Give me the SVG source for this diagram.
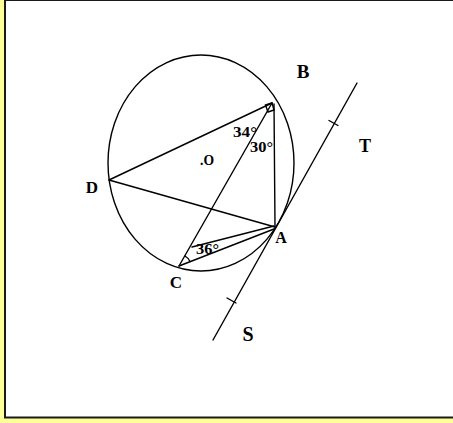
<svg xmlns="http://www.w3.org/2000/svg" width="453" height="423" viewBox="0 0 453 423">
<style>
.ln{stroke:#000;stroke-width:1.4;fill:none;stroke-linecap:round}
.lb{font-family:"Liberation Serif","Times New Roman",serif;font-weight:bold;fill:#000}
.ang{font-family:"Liberation Serif","Times New Roman",serif;font-weight:bold;fill:#000;font-size:15px}
</style>
<rect x="0" y="0" width="453" height="423" fill="#FFFF99"/>
<rect x="5" y="0" width="460" height="417.5" fill="#fff" stroke="#1a1a1a" stroke-width="2"/>
<g id="circle">
<ellipse class="ln" cx="201" cy="163" rx="93" ry="108"/>
</g>
<g id="connectors">
<line class="ln" x1="272" y1="103" x2="109" y2="180"/>
<line class="ln" x1="109" y1="180" x2="275" y2="227"/>
<line class="ln" x1="274" y1="104" x2="275" y2="227"/>
<line class="ln" x1="272" y1="103" x2="179" y2="266"/>
<line class="ln" x1="179" y1="266" x2="274" y2="229"/>
<line class="ln" x1="192" y1="247" x2="274" y2="226"/>
<line class="ln" x1="357" y1="83" x2="213" y2="340"/>
<line class="ln" x1="329" y1="120.5" x2="338" y2="125.5"/>
<line class="ln" x1="227" y1="298" x2="236" y2="303"/>
<polygon class="ln" points="265.5,105 272,103 274,110 268,112"/>
<path class="ln" d="M185,256 A12,12 0 0 1 190,261.5"/>
</g>
<g id="B"><text class="lb" x="303" y="78" font-size="19" text-anchor="middle">B</text></g>
<g id="T"><text class="lb" x="365" y="152" font-size="18" text-anchor="middle">T</text></g>
<g id="D"><text class="lb" x="92" y="193" font-size="17" text-anchor="middle">D</text></g>
<g id="A"><text class="lb" x="281" y="243" font-size="16" text-anchor="middle">A</text></g>
<g id="C"><text class="lb" x="176" y="288" font-size="17" text-anchor="middle">C</text></g>
<g id="S"><text class="lb" x="248" y="341" font-size="20" text-anchor="middle">S</text></g>
<g id="O"><text class="lb" x="200" y="165" font-size="15" textLength="14" lengthAdjust="spacingAndGlyphs">.O</text></g>
<g id="ang34"><text class="ang" x="233" y="137" textLength="24" lengthAdjust="spacingAndGlyphs">34°</text></g>
<g id="ang30"><text class="ang" x="250" y="152" textLength="23" lengthAdjust="spacingAndGlyphs">30°</text></g>
<g id="ang36"><text class="ang" x="196" y="254" textLength="23" lengthAdjust="spacingAndGlyphs">36°</text></g>
</svg>
